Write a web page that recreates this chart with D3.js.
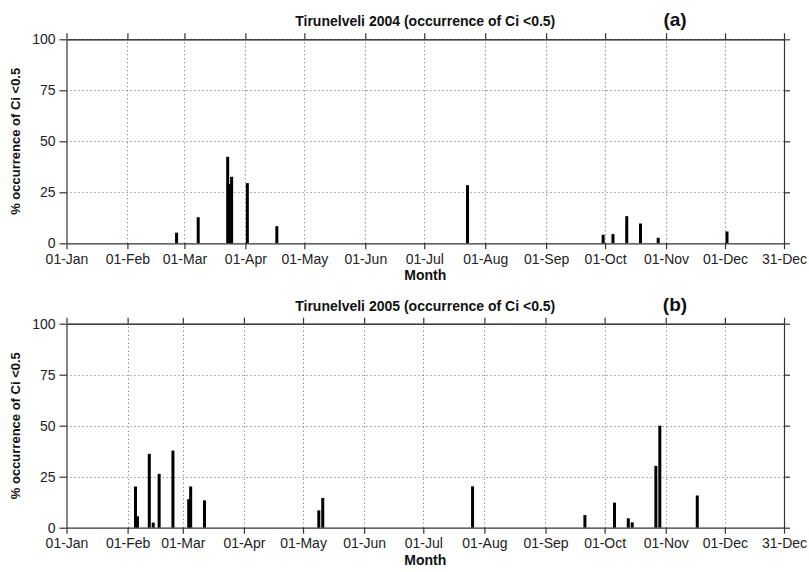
<!DOCTYPE html>
<html>
<head>
<meta charset="utf-8">
<script src="https://cdn.jsdelivr.net/npm/d3@7"></script>
<style>
  html, body { margin: 0; padding: 0; background: #fff; }
  svg { display: block; }
  text { font-family: "Liberation Sans", Arial, sans-serif; }
</style>
</head>
<body>
<svg id="chart" width="809" height="572"></svg>
<script>
// ---- data ----
const titles = ["Tirunelveli 2004 (occurrence of Ci <0.5)", "Tirunelveli 2005 (occurrence of Ci <0.5)"];
const panelTags = ["(a)", "(b)"];
const years = [2004, 2005];

const dates2004 = ["2004-02-26","2004-03-08","2004-03-23","2004-03-24","2004-03-25","2004-04-02","2004-04-17",
                   "2004-07-23","2004-09-30","2004-10-05","2004-10-12","2004-10-19","2004-10-28","2004-12-02"];
const values2004 = [5.2, 12.8, 42.4, 29, 32.6, 29.5, 8.4, 28.5, 4.2, 4.5, 13.3, 9.7, 2.7, 5.8];

const dates2005 = ["2005-02-05","2005-02-06","2005-02-12","2005-02-14","2005-02-17","2005-02-24","2005-03-04",
                   "2005-03-05","2005-03-12","2005-05-09","2005-05-11","2005-07-26","2005-09-21","2005-10-06",
                   "2005-10-13","2005-10-15","2005-10-27","2005-10-29","2005-11-17"];
const values2005 = [20.2, 5.6, 36.2, 2.5, 26.4, 37.8, 14, 20.2, 13.4, 8.5, 14.6, 20.3, 6.2, 12.3, 4.6, 2.6, 30.3, 50, 15.8];

const xTickDays = ["01-01","02-01","03-01","04-01","05-01","06-01","07-01","08-01","09-01","10-01","11-01","12-01","12-31"];
const xTickLabels = ["01-Jan","01-Feb","01-Mar","01-Apr","01-May","01-Jun","01-Jul","01-Aug","01-Sep","01-Oct","01-Nov","01-Dec","31-Dec"];
const yTicks = [0, 25, 50, 75, 100];
const yLabel = "% occurrence of Ci <0.5";
const xLabel = "Month";

// ---- layout ----
const svg = d3.select("#chart");
const parse = d3.utcParse("%Y-%m-%d");
const left = 66.5, right = 784;
const panelTops = [39.3, 323.7];
const plotH = 204;

const seriesDates = [dates2004, dates2005];
const seriesValues = [values2004, values2005];

years.forEach((yr, i) => {
  const top = panelTops[i];
  const g = svg.append("g");
  const x = d3.scaleUtc()
    .domain([parse(yr + "-01-01"), parse(yr + "-12-31")])
    .range([left, right]);
  const y = d3.scaleLinear().domain([0, 100]).range([top + plotH, top]);
  const tickDates = xTickDays.map(d => parse(yr + "-" + d));

  // grid
  const grid = g.append("g").attr("stroke", "#666").attr("stroke-width", 1)
    .attr("stroke-dasharray", "1,3").attr("fill", "none");
  tickDates.slice(1, -1).forEach(d => {
    grid.append("line").attr("x1", Math.round(x(d)) + 0.5).attr("x2", Math.round(x(d)) + 0.5)
      .attr("y1", y(0)).attr("y2", y(100));
  });
  yTicks.slice(1).forEach(v => {
    grid.append("line").attr("x1", left).attr("x2", right)
      .attr("y1", Math.round(y(v)) + 0.5).attr("y2", Math.round(y(v)) + 0.5);
  });

  // bars
  const data = seriesDates[i].map((d, k) => ({ date: parse(d), value: seriesValues[i][k] }));
  g.append("g").selectAll("rect").data(data).join("rect")
    .attr("x", d => x(d.date) - 1.5)
    .attr("width", 3)
    .attr("y", d => y(d.value))
    .attr("height", d => y(0) - y(d.value))
    .attr("fill", "#000");

  // axes
  const fmt = (d, k) => xTickLabels[k];
  const axB = g.append("g").attr("transform", `translate(0,${y(0)})`)
    .call(d3.axisBottom(x).tickValues(tickDates).tickFormat(fmt).tickSize(6).tickSizeOuter(0));
  const axT = g.append("g").attr("transform", `translate(0,${y(100)})`)
    .call(d3.axisTop(x).tickValues(tickDates).tickFormat("").tickSize(6).tickSizeOuter(0));
  const axL = g.append("g").attr("transform", `translate(${left},0)`)
    .call(d3.axisLeft(y).tickValues(yTicks).tickSize(7).tickSizeOuter(0));
  const axR = g.append("g").attr("transform", `translate(${right},0)`)
    .call(d3.axisRight(y).tickValues(yTicks).tickFormat("").tickSize(6).tickSizeOuter(0));
  [axB, axT, axL, axR].forEach(a => {
    a.selectAll("path,line").attr("stroke", "#333").attr("stroke-width", 1.2);
    a.selectAll("text").attr("fill", "#222").style("font-size", "14px")
      .style("font-family", "'Liberation Sans', Arial, sans-serif");
  });
  axT.select("path.domain").attr("stroke", "#111");
  axB.selectAll("text").attr("dy", "0.95em").attr("y", 7);
  axL.selectAll("text").attr("x", -11);

  // titles and labels
  g.append("text").attr("x", (left + right) / 2).attr("y", top - 13)
    .attr("text-anchor", "middle").style("font-size", "14px").style("font-weight", "bold")
    .attr("fill", "#111").text(titles[i]);
  g.append("text").attr("x", 675).attr("y", top - 13)
    .attr("text-anchor", "middle").style("font-size", "19px").style("font-weight", "bold")
    .attr("fill", "#111").text(panelTags[i]);
  g.append("text").attr("x", (left + right) / 2).attr("y", top + plotH + 37)
    .attr("text-anchor", "middle").style("font-size", "14px").style("font-weight", "bold")
    .attr("fill", "#111").text(xLabel);
  g.append("text")
    .attr("transform", `translate(20,${top + plotH / 2}) rotate(-90)`)
    .attr("text-anchor", "middle").style("font-size", "13px").style("font-weight", "bold")
    .attr("fill", "#111").text(yLabel);
});
</script>
</body>
</html>
